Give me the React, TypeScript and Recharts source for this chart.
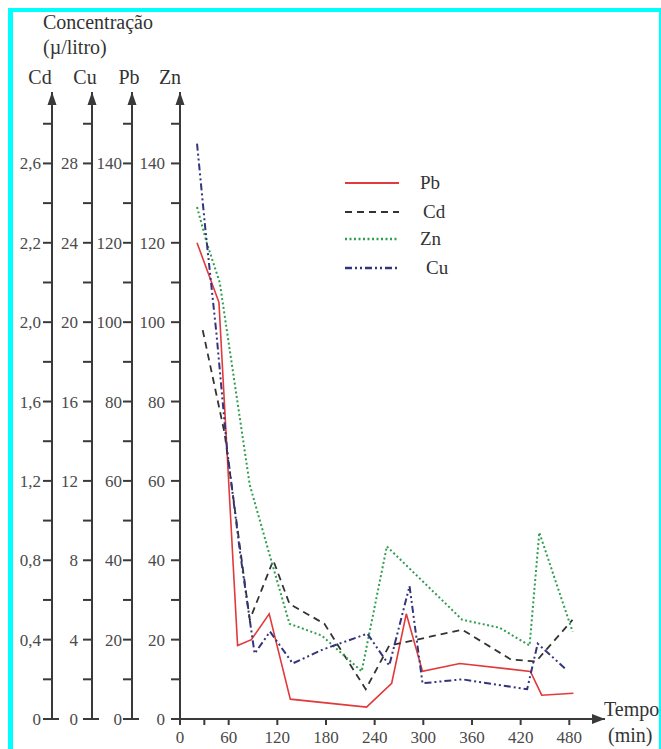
import { Legend, Line, LineChart, XAxis, YAxis } from "recharts";

// time axis (min)
const timeTicks = [0, 30, 60, 120, 180, 240, 300, 360, 420, 480];
const timeTickLabels = ["0", "", "60", "120", "180", "240", "300", "360", "420", "480"];

// the four concentration axes, minor ticks between the labelled ones
const znTicks = [0, 10, 20, 30, 40, 50, 60, 70, 80, 90, 100, 110, 120, 130, 140, 150];
const znTickLabels = ["0", "20", "40", "60", "80", "100", "120", "140"];
const pbTicks = [0, 10, 20, 30, 40, 50, 60, 70, 80, 90, 100, 110, 120, 130, 140, 150];
const pbTickLabels = ["0", "20", "40", "60", "80", "100", "120", "140"];
const cuTicks = [0, 2, 4, 6, 8, 10, 12, 14, 16, 18, 20, 22, 24, 26, 28, 30];
const cuTickLabels = ["0", "4", "8", "12", "16", "20", "24", "28"];
const cdTicks = [0, 0.2, 0.4, 0.6, 0.8, 1, 1.2, 1.4, 1.6, 1.8, 2, 2.2, 2.4, 2.6, 2.8, 3];
const cdTickLabels = ["0", "0,4", "0,8", "1,2", "1,6", "2,0", "2,2", "2,6"];

// series
const pbTime = [21, 39, 48, 71, 88, 110, 136, 230, 261, 279, 299, 345, 432, 446, 485];
const pbValue = [120, 110, 105, 18.5, 20, 26.5, 5, 3, 9, 26.5, 12, 14, 12, 6, 6.5];

const cdTime = [28, 55, 86, 115, 135, 178, 229, 258, 348, 408, 439, 484];
const cdValue = [1.96, 1.44, 0.5, 0.8, 0.58, 0.48, 0.15, 0.37, 0.45, 0.3, 0.29, 0.5];

const znTime = [21, 33, 49, 86, 111, 135, 175, 224, 255, 348, 394, 431, 443, 484];
const znValue = [129, 120, 110, 59, 41, 24, 21, 12, 43.5, 25, 23, 18.5, 47, 22];

const cuTime = [21, 31, 45, 58, 74, 92, 111, 139, 176, 231, 258, 283, 299, 348, 428, 441, 476];
const cuValue = [29, 24.8, 19.4, 13.6, 8.4, 3.3, 4.4, 2.8, 3.5, 4.3, 2.7, 6.7, 1.8, 2, 1.5, 3.8, 2.5];

const toPoints = (t: number[], v: number[]) => t.map((time, i) => ({ time, value: v[i] }));

const SERIF = "'Liberation Serif', 'Times New Roman', Times, serif";
const AXIS = "#3a3a3a";
const TEXT = "#4a4a4a";

const series = [
  { name: "Pb", color: "#e2393a", dash: undefined, width: 1.6 },
  { name: "Cd", color: "#333333", dash: "7 5", width: 1.8 },
  { name: "Zn", color: "#2f9e4f", dash: "2 2.5", width: 2 },
  { name: "Cu", color: "#34347e", dash: "7 3 2 3 2 3", width: 2 },
];

const tickStyle = { fontFamily: SERIF, fontSize: 17, fill: TEXT };

const halfLabels = (labels: string[]) => (_v: number, i: number) =>
  i % 2 === 0 ? labels[i / 2] ?? "" : "";

// arrow head + name on top of each y axis, small stub to the right at zero
function axisHead(name: string, shift: number, stub: boolean) {
  return (props: any) => {
    const { x, y, width, height } = props.viewBox;
    const ax = x + width;
    return (
      <g>
        <path d={`M${ax},${y} L${ax - 4.5},${y + 13} L${ax + 4.5},${y + 13} Z`} fill={AXIS} />
        <text x={ax + shift} y={y - 8} textAnchor="middle" style={{ fontFamily: SERIF }} fontSize={20} fill="#333">
          {name}
        </text>
        {stub && <line x1={ax} x2={ax + 7} y1={y + height} y2={y + height} stroke={AXIS} strokeWidth={2} />}
      </g>
    );
  };
}

function timeHead(props: any) {
  const { x, y, width } = props.viewBox;
  const ax = x + width;
  return (
    <g style={{ fontFamily: SERIF }}>
      <path d={`M${ax},${y} L${ax - 13},${y - 5} L${ax - 13},${y + 5} Z`} fill={AXIS} />
      <text x={ax - 1} y={y - 3} fontSize={20} fill="#333">
        Tempo
      </text>
      <text x={ax + 3} y={y + 23} fontSize={20} fill="#333">
        (min)
      </text>
    </g>
  );
}

function LegendBox() {
  return (
    <svg width={130} height={120} style={{ fontFamily: SERIF }}>
      {series.map((s, i) => {
        const y = [15, 44, 71, 100][i];
        return (
          <g key={s.name}>
            <line x1={5} x2={59} y1={y} y2={y} stroke={s.color} strokeWidth={s.width + 0.3} strokeDasharray={s.dash} />
            <text x={80 + (s.name === "Cu" ? 6 : s.name === "Cd" ? 3 : 0)} y={y + 6} fontSize={19} fill="#333">
              {s.name}
            </text>
          </g>
        );
      })}
    </svg>
  );
}

export default function App() {
  const pb = toPoints(pbTime, pbValue);
  const cd = toPoints(cdTime, cdValue);
  const zn = toPoints(znTime, znValue);
  const cu = toPoints(cuTime, cuValue);

  const axisProps = {
    axisLine: { stroke: AXIS, strokeWidth: 2 },
    tickLine: { stroke: AXIS, strokeWidth: 2 },
    tick: tickStyle,
    tickSize: 9,
    interval: 0 as const,
    allowDataOverflow: true,
  };

  // recharts stacks left axes by id order: "a" sits next to the plot
  return (
    <div style={{ position: "absolute", left: 0, top: 0, width: 661, height: 749, background: "#fff", fontFamily: SERIF }}>
      <div
        style={{
          position: "absolute",
          left: 8,
          top: 8,
          width: 653,
          height: 741,
          boxSizing: "border-box",
          borderLeft: "5px solid #00ffff",
          borderTop: "4px solid #00ffff",
          borderRight: "2px solid #00ffff",
        }}
      />
      <div style={{ position: "absolute", left: 43, top: 12, fontSize: 20, lineHeight: "20px", color: "#333" }}>
        Concentração
      </div>
      <div style={{ position: "absolute", left: 43, top: 37, fontSize: 20, lineHeight: "20px", color: "#333" }}>
        (µ/litro)
      </div>
      <div style={{ position: "absolute", left: 0, top: 0 }}>
        <LineChart width={661} height={749} margin={{ top: 92, right: 56, bottom: 0, left: 8 }}>
          <XAxis
            dataKey="time"
            type="number"
            domain={[0, 524]}
            ticks={timeTicks}
            tickFormatter={(_v: number, i: number) => timeTickLabels[i] ?? ""}
            height={30}
            {...axisProps}
            tickSize={6}
            tickMargin={6}
            label={{ content: timeHead }}
          />
          <YAxis
            yAxisId="d_cd"
            width={44}
            domain={[0, 3.16]}
            ticks={cdTicks}
            tickFormatter={halfLabels(cdTickLabels)}
            tickMargin={2}
            {...axisProps}
            label={{ content: axisHead("Cd", -12, true) }}
          />
          <YAxis
            yAxisId="c_cu"
            width={40}
            domain={[0, 31.6]}
            ticks={cuTicks}
            tickFormatter={halfLabels(cuTickLabels)}
            tickMargin={5}
            {...axisProps}
            label={{ content: axisHead("Cu", -7, true) }}
          />
          <YAxis
            yAxisId="b_pb"
            width={40}
            domain={[0, 158]}
            ticks={pbTicks}
            tickFormatter={halfLabels(pbTickLabels)}
            tickMargin={1}
            {...axisProps}
            label={{ content: axisHead("Pb", -3, true) }}
          />
          <YAxis
            yAxisId="a_zn"
            width={48}
            domain={[0, 158]}
            ticks={znTicks}
            tickFormatter={halfLabels(znTickLabels)}
            tickMargin={6}
            {...axisProps}
            label={{ content: axisHead("Zn", -10, false) }}
          />
          <Legend
            layout="vertical"
            align="center"
            verticalAlign="middle"
            wrapperStyle={{ left: 340, top: 168, width: 130, height: 120 }}
            content={() => <LegendBox />}
          />
          <Line data={pb} dataKey="value" yAxisId="b_pb" stroke={series[0].color} strokeWidth={series[0].width} dot={false} isAnimationActive={false} />
          <Line data={cd} dataKey="value" yAxisId="d_cd" stroke={series[1].color} strokeWidth={series[1].width} strokeDasharray={series[1].dash} dot={false} isAnimationActive={false} />
          <Line data={zn} dataKey="value" yAxisId="a_zn" stroke={series[2].color} strokeWidth={series[2].width} strokeDasharray={series[2].dash} dot={false} isAnimationActive={false} />
          <Line data={cu} dataKey="value" yAxisId="c_cu" stroke={series[3].color} strokeWidth={series[3].width} strokeDasharray={series[3].dash} dot={false} isAnimationActive={false} />
        </LineChart>
      </div>
    </div>
  );
}
